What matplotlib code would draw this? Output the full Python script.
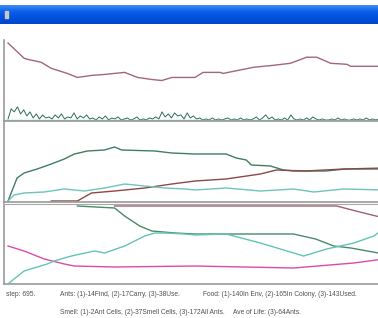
import numpy as np
import matplotlib
matplotlib.use('Agg')
import matplotlib.pyplot as plt

W, H = 378, 318

# panel 1: colony size (upper line) and activity (noisy line)
p1_x = [4, 20, 23, 37, 47, 63, 73, 87, 100, 110, 120, 133, 147, 157, 167, 180, 190,
        198, 215, 218, 228, 248, 268, 285, 301, 311, 325, 341, 345, 378]
p1_y = [77, 62, 61, 58, 52, 47, 43, 45, 46, 47, 48, 43, 41, 40, 43, 43, 43,
        48, 48, 47, 49, 53, 55, 57, 63, 63, 57, 56, 54, 54]
p1_noise = [2, 12, 9, 14, 7, 11, 5, 9, 3, 7, 2, 6, 3, 4, 2, 6, 3, 7, 2, 4, 3, 8, 2, 5,
            3, 6, 2, 3, 1, 4, 2, 5, 1, 3, 2, 4, 1, 2, 3, 1, 2, 4, 1, 2, 1, 3, 2, 4,
            2, 9, 4, 7, 3, 8, 5, 6, 2, 8, 3, 5, 2, 3, 1, 2, 1, 3, 1, 2, 1, 2, 3, 1,
            2, 1, 3, 1, 2, 1, 2, 4, 1, 3, 6, 2, 4, 1, 2, 1, 3, 1, 6, 2, 1, 2, 1, 3,
            1, 4, 2, 1, 2, 1, 1, 2, 1, 3, 1, 2, 1, 1, 2, 1, 2, 1, 3, 1, 2, 1, 2, 1]

# panel 2: food
p2_green_x = [4, 13, 20, 33, 47, 60, 70, 83, 100, 110, 117, 150, 167, 190, 221, 231, 241,
              246, 265, 278, 288, 320, 340, 378]
p2_green_y = [1, 24, 29, 33, 38, 43, 48, 51, 52, 55, 52, 51, 49, 48, 48, 44, 42,
              37, 36, 32, 31, 31, 33, 33]
p2_red_x = [47, 73, 87, 110, 140, 167, 190, 221, 255, 271, 300, 338, 378]
p2_red_y = [1, 1, 9, 11, 14, 18, 21, 23, 28, 32, 31, 33, 34]
p2_teal_x = [4, 10, 20, 40, 60, 80, 100, 120, 140, 160, 180, 190, 221, 255, 288, 308, 338, 378]
p2_teal_y = [1, 7, 9, 10, 13, 11, 14, 18, 16, 14, 13, 12, 14, 11, 13, 10, 13, 12]

# panel 3: smell / life
p3_pink_x = [4, 20, 40, 60, 70, 110, 190, 288, 348, 378]
p3_pink_y = [38, 33, 25, 20, 18, 17, 18, 16, 21, 25]
p3_teal_x = [5, 20, 43, 50, 67, 90, 100, 120, 140, 150, 160, 180, 190, 221, 255, 298,
             321, 348, 368, 378]
p3_teal_y = [1, 13, 20, 23, 28, 33, 31, 38, 48, 51, 51, 50, 49, 50, 41, 28,
             35, 41, 48, 56]
p3_green_x = [73, 110, 120, 135, 147, 170, 190, 221, 288, 310, 328, 345, 378]
p3_green_y = [78, 76, 68, 58, 53, 51, 50, 50, 50, 45, 38, 36, 30]
p3_red_x = [110, 331, 350, 378]
p3_red_y = [78, 78, 73, 66]

step_text = 'step: 695.'
line1 = ['Ants: (1)-14Find, (2)-17Carry, (3)-38Use.',
         'Food: (1)-140In Env, (2)-165In Colony, (3)-143Used.']
line2 = ['Smell: (1)-2Ant Cells, (2)-37Smell Cells, (3)-172All Ants.',
         'Ave of Life: (3)-64Ants.']


def px_axes(fig, x0, y0, x1, y1):
    return fig.add_axes([x0 / W, 1 - y1 / H, (x1 - x0) / W, (y1 - y0) / H])


def style(ax, top):
    ax.set_xlim(0, 380)
    ax.set_ylim(0, top)
    ax.set_xticks([])
    ax.set_yticks([])
    for s in ['top', 'right']:
        ax.spines[s].set_visible(False)
    for s in ['left', 'bottom']:
        ax.spines[s].set_color('#9a9a9a')
        ax.spines[s].set_linewidth(1.2)
    ax.patch.set_alpha(0)


fig = plt.figure(figsize=(W / 100, H / 100), dpi=100)
fig.patch.set_facecolor('white')

# title bar
tb = px_axes(fig, 0, 5, W, 24)
grad = np.linspace(0, 1, 20)[:, None]
cmap = matplotlib.colors.LinearSegmentedColormap.from_list(
    'xp', ['#3d8cf5', '#0a5ee8', '#0052dd', '#0048cc'])
tb.imshow(grad, aspect='auto', cmap=cmap, extent=[0, 1, 0, 1])
tb.axis('off')
tb.add_patch(plt.Rectangle((0.012, 0.3), 0.008, 0.4, color='#c8c8c8'))

ax1 = px_axes(fig, 4, 40, 386, 121)
style(ax1, 80)
ax1.plot(p1_x, p1_y, color='#a06878', lw=1.0)
nx = np.linspace(4, 376, len(p1_noise))
ax1.plot(nx, p1_noise, color='#2f6e52', lw=0.7)
ax1.axhline(1, color='#7fd0c4', lw=1.0)

ax2 = px_axes(fig, 4, 122, 386, 202)
style(ax2, 80)
ax2.plot(p2_green_x, p2_green_y, color='#3f7f60', lw=1.0)
ax2.plot(p2_red_x, p2_red_y, color='#8c4848', lw=1.0)
ax2.plot(p2_teal_x, p2_teal_y, color='#6cc4bc', lw=1.0)

ax3 = px_axes(fig, 4, 204, 386, 284)
style(ax3, 80)
ax3.spines['top'].set_visible(True)
ax3.spines['top'].set_color('#a8a8a8')
ax3.plot(p3_pink_x, p3_pink_y, color='#dc4aa8', lw=1.0)
ax3.plot(p3_green_x, p3_green_y, color='#4a8a6c', lw=1.0)
ax3.plot(p3_teal_x, p3_teal_y, color='#62c4b4', lw=1.0)
ax3.plot(p3_red_x, p3_red_y, color='#a06070', lw=1.0)

fs = 4.8
tc = '#505050'
font = 'Liberation Sans'
fig.text(6 / W, 1 - 295 / H, step_text, fontsize=fs, color=tc, va='center', family=font)
fig.text(60 / W, 1 - 295 / H, line1[0], fontsize=fs, color=tc, va='center', family=font)
fig.text(203 / W, 1 - 295 / H, line1[1], fontsize=fs, color=tc, va='center', family=font)
fig.text(60 / W, 1 - 312 / H, line2[0], fontsize=fs, color=tc, va='center', family=font)
fig.text(233 / W, 1 - 312 / H, line2[1], fontsize=fs, color=tc, va='center', family=font)

fig.savefig('out.png', dpi=100)
